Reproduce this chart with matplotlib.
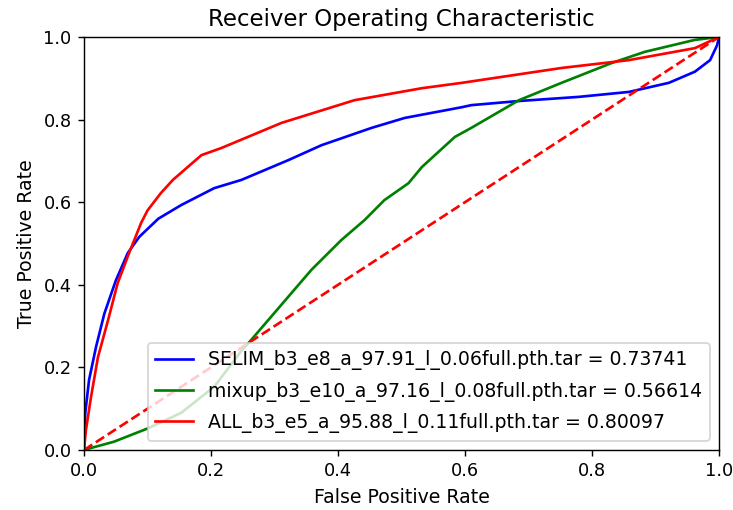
import matplotlib
matplotlib.use("Agg")
import matplotlib.pyplot as plt

# ROC points (fpr, tpr)
selim_fpr = [0.0, 0.002, 0.008, 0.019, 0.032, 0.05, 0.069, 0.087, 0.117, 0.153,
             0.205, 0.248, 0.322, 0.374, 0.453, 0.505, 0.595, 0.61, 0.685,
             0.779, 0.858, 0.921, 0.962, 0.986, 0.997, 1.0]
selim_tpr = [0.0, 0.09, 0.17, 0.25, 0.33, 0.41, 0.477, 0.516, 0.56, 0.593,
             0.634, 0.654, 0.702, 0.738, 0.78, 0.804, 0.83, 0.835, 0.845,
             0.855, 0.867, 0.889, 0.916, 0.944, 0.98, 1.0]

mixup_fpr = [0.0, 0.016, 0.047, 0.1, 0.153, 0.205, 0.248, 0.263, 0.358, 0.405,
             0.442, 0.473, 0.511, 0.532, 0.584, 0.61, 0.685, 0.752, 0.831,
             0.883, 0.962, 1.0]
mixup_tpr = [0.0, 0.007, 0.02, 0.052, 0.09, 0.153, 0.24, 0.266, 0.436, 0.508,
             0.557, 0.605, 0.646, 0.685, 0.758, 0.78, 0.847, 0.889, 0.937,
             0.964, 0.993, 1.0]

all_fpr = [0.0, 0.003, 0.011, 0.022, 0.038, 0.053, 0.071, 0.09, 0.1, 0.121,
           0.14, 0.185, 0.216, 0.311, 0.426, 0.532, 0.595, 0.752, 0.858,
           0.962, 1.0]
all_tpr = [0.0, 0.048, 0.128, 0.225, 0.315, 0.404, 0.477, 0.55, 0.58, 0.622,
           0.654, 0.714, 0.731, 0.792, 0.847, 0.876, 0.889, 0.925, 0.944,
           0.973, 1.0]

labels = ["SELIM_b3_e8_a_97.91_l_0.06full.pth.tar = 0.73741",
          "mixup_b3_e10_a_97.16_l_0.08full.pth.tar = 0.56614",
          "ALL_b3_e5_a_95.88_l_0.11full.pth.tar = 0.80097"]

dpi = 128
fig = plt.figure(figsize=(733 / dpi, 510 / dpi), dpi=dpi)
ax = fig.add_axes([84 / 733, 1 - 450 / 510, 635 / 733, 413 / 510])

lw = 1.5
ax.plot(selim_fpr, selim_tpr, "b", lw=lw, label=labels[0])
ax.plot(mixup_fpr, mixup_tpr, "g", lw=lw, label=labels[1])
ax.plot(all_fpr, all_tpr, "r", lw=lw, label=labels[2])
ax.plot([0, 1], [0, 1], "r--", lw=lw)

ax.set_xlim([0, 1])
ax.set_ylim([0, 1])
ax.set_title("Receiver Operating Characteristic", fontsize=12.85)
ax.set_xlabel("False Positive Rate", fontsize=10.6)
ax.set_ylabel("True Positive Rate", fontsize=10.6)
ax.tick_params(labelsize=10)
ax.legend(loc="lower right", fontsize=10.6, labelspacing=0.6)

fig.savefig("out.png", dpi=dpi)
